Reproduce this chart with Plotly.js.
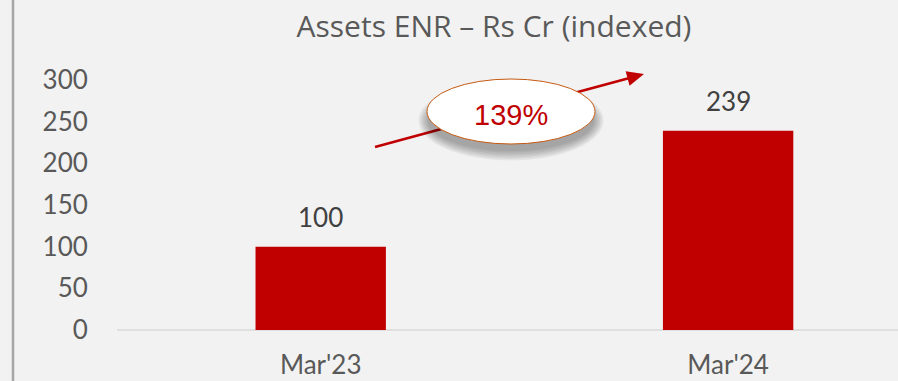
<!DOCTYPE html>
<html>
<head>
<meta charset="utf-8">
<script src="https://cdn.plot.ly/plotly-3.0.1.min.js"></script>
<style>
  html, body { margin: 0; padding: 0; background: #f2f2f2; }
  #chart { width: 898px; height: 381px; }
</style>
</head>
<body>
<div id="chart"></div>
<script>
// Indexed asset values (Mar'23 = 100)
const periods = ["Mar'23", "Mar'24"];
const assetIndex = [100, 239];
const growthLabel = "139%";
const yTicks = [0, 50, 100, 150, 200, 250, 300];

const W = 898, H = 381;
const M = { l: 117, r: 0, t: 80, b: 51 };
const plotW = W - M.l - M.r, plotH = H - M.t - M.b;

// pixel -> paper helpers for the decorative callout
const px = x => (x - M.l) / plotW;
const py = y => (H - M.b - y) / plotH;

const RED = '#c00000';
const TXT = '#595959';
const FONT = 'Lato, "Open Sans", sans-serif';

const bars = {
  type: 'bar',
  x: periods,
  y: assetIndex,
  width: 0.32,
  marker: { color: RED, line: { width: 0 } },
  hoverinfo: 'skip'
};

// value labels above each bar
const valueLabels = periods.map((p, i) => ({
  x: p, y: assetIndex[i], xref: 'x', yref: 'y',
  text: String(assetIndex[i]), showarrow: false,
  yanchor: 'bottom', yshift: 12,
  font: { family: FONT, size: 26, color: '#404040' }
}));

// growth arrow (drawn as shapes so the ellipse sits on top of it)
const a0 = [375, 147], a1 = [644, 74];
const dx = a1[0] - a0[0], dy = a1[1] - a0[1];
const len = Math.hypot(dx, dy);
const ux = dx / len, uy = dy / len;
const headL = 17, headW = 7.5;
const bx = a1[0] - ux * headL, by = a1[1] - uy * headL;
const nx = -uy, ny = ux;
const headPath = 'M' + px(a1[0]) + ',' + py(a1[1]) +
  ' L' + px(bx + nx * headW) + ',' + py(by + ny * headW) +
  ' L' + px(bx - nx * headW) + ',' + py(by - ny * headW) + ' Z';

const shapes = [
  // left frame line
  { type: 'line', xref: 'paper', yref: 'paper', x0: px(13), x1: px(13), y0: py(0), y1: py(H),
    line: { color: '#a6a6a6', width: 2.5 } },
  // baseline
  { type: 'line', xref: 'paper', yref: 'paper', x0: 0, x1: 1, y0: 0, y1: 0,
    line: { color: '#d9d9d9', width: 1.5 }, layer: 'below' },
  { type: 'line', xref: 'paper', yref: 'paper',
    x0: px(a0[0]), y0: py(a0[1]), x1: px(bx + ux * 2), y1: py(by + uy * 2),
    line: { color: RED, width: 2.5 } },
  { type: 'path', xref: 'paper', yref: 'paper', path: headPath,
    fillcolor: RED, line: { width: 0 } }
];

// soft shadow under the callout ellipse
const ec = [511, 111.5], rx = 84, ry = 32.5;
for (let k = 6; k >= 0; k--) {
  const off = 7, grow = k * 1.6;
  shapes.push({
    type: 'circle', xref: 'paper', yref: 'paper',
    x0: px(ec[0] - rx - grow + 1), x1: px(ec[0] + rx + grow - 1),
    y0: py(ec[1] + off + ry + grow), y1: py(ec[1] + off - ry - grow + 4),
    fillcolor: 'rgba(0,0,0,0.05)', line: { width: 0 }
  });
}
shapes.push({
  type: 'circle', xref: 'paper', yref: 'paper',
  x0: px(ec[0] - rx), x1: px(ec[0] + rx),
  y0: py(ec[1] + ry), y1: py(ec[1] - ry),
  fillcolor: '#ffffff', line: { color: '#c55a11', width: 1 }
});

const annotations = valueLabels.concat([{
  xref: 'paper', yref: 'paper', x: px(ec[0]), y: py(ec[1] + 3),
  text: growthLabel, showarrow: false, xanchor: 'center', yanchor: 'middle',
  font: { family: '"Liberation Sans", Arial, sans-serif', size: 29, color: RED }
}]);

const layout = {
  width: W, height: H,
  margin: M,
  paper_bgcolor: '#f2f2f2',
  plot_bgcolor: '#f2f2f2',
  showlegend: false,
  title: {
    text: 'Assets ENR – Rs Cr (indexed)',
    font: { family: '"Open Sans", Lato, sans-serif', size: 30, color: TXT },
    xref: 'container', x: 494 / W, xanchor: 'center',
    yref: 'container', y: 1 - 26 / H, yanchor: 'middle'
  },
  xaxis: {
    type: 'category',
    range: [-0.5, 1.417],
    showgrid: false, zeroline: false, showline: false,
    ticks: 'outside', ticklen: 12, tickcolor: 'rgba(0,0,0,0)',
    tickfont: { family: FONT, size: 26, color: TXT },
    fixedrange: true
  },
  yaxis: {
    range: [0, 300],
    tickvals: yTicks,
    showgrid: false, zeroline: false, showline: false,
    ticks: 'outside', ticklen: 23, tickcolor: 'rgba(0,0,0,0)',
    tickfont: { family: FONT, size: 26, color: TXT },
    fixedrange: true
  },
  shapes: shapes,
  annotations: annotations
};

Plotly.newPlot('chart', [bars], layout, { displayModeBar: false, staticPlot: true });
</script>
</body>
</html>
